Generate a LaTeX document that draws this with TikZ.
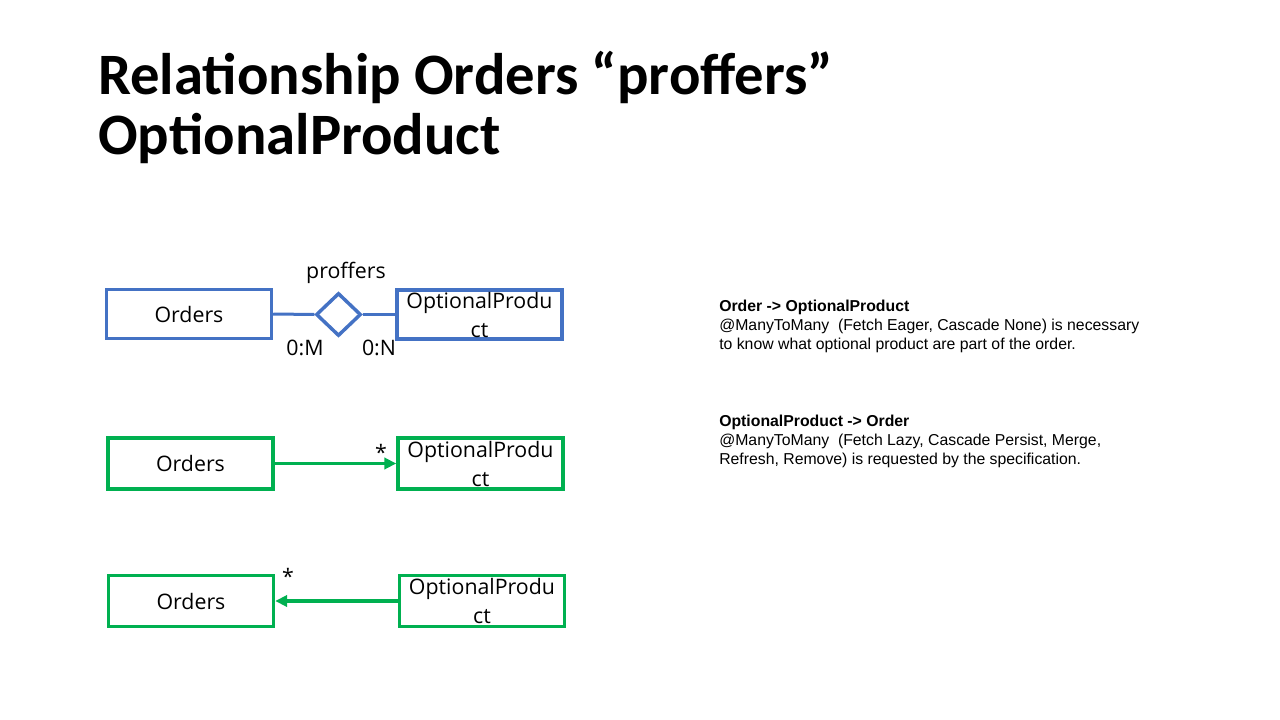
\documentclass[tikz,border=0pt]{standalone}
\usepackage{fontspec}
\setmainfont{Liberation Sans}
\newfontfamily\titlefont{Carlito}
\newfontfamily\boxfont{Open Sans}
\usetikzlibrary{arrows.meta,shapes.geometric}

\definecolor{erblue}{HTML}{4472C4}
\definecolor{umlgreen}{HTML}{00B050}

\begin{document}
\begin{tikzpicture}[x=0.75pt,y=-0.75pt,
  entity/.style={draw, line width=2.6pt, fill=white, minimum width=123.75pt, inner sep=0pt},
  blueentity/.style={entity, draw=erblue, minimum height=36.75pt},
  greenentity/.style={entity, draw=umlgreen, minimum height=38.25pt},
  relation/.style={draw=erblue, line width=2.6pt, diamond, aspect=1.05, minimum width=33.75pt, minimum height=32.25pt, inner sep=0pt},
  boxtext/.style={font=\boxfont\fontsize{16}{21.75}\selectfont, align=center, inner sep=0pt},
  smalltext/.style={font=\boxfont\fontsize{16}{20}\selectfont, inner sep=0pt},
  erline/.style={draw=erblue, line width=2.25pt},
  navarrow/.style={draw=umlgreen, line width=2.5pt, -{Triangle[length=9pt,width=8.5pt]}},
  note/.style={font=\fontsize{11.85}{13.9}\selectfont, align=left, inner sep=0pt, anchor=base west}
]
\useasboundingbox (0,0) rectangle (1280,720);

% title (base anchor sits on the last line)
\node[font=\titlefont\bfseries\fontsize{44}{45}\selectfont, align=left, anchor=base west, inner sep=0pt]
  (title) at (98,155) {Relationship Orders “proffers”\\OptionalProduct};

% ER relationship
\node[blueentity] (erord) at (189,314) {};
\node[boxtext] (erordtext) at (erord.center) {Orders};
\node[blueentity] (erprod) at (479.5,314.5) {};
\node[boxtext] (erprodtext) at (erprod.center) {OptionalProdu\\ct};
\node[relation] (rel) at (338.5,314.5) {};
\draw[erline] (erord.east) -- (rel.west);
\draw[erline] (rel.east) -- (erprod.west);
\node[smalltext] (relname) at (346,273) {proffers};
\node[smalltext] (cardm) at (305,348) {0:M};
\node[smalltext] (cardn) at (379,348) {0:N};

% unidirectional: Orders -> OptionalProduct
\node[greenentity] (uord) at (190.5,463.5) {};
\node[boxtext] (uordtext) at (uord.center) {Orders};
\node[greenentity] (uprod) at (480.5,463.5) {};
\node[boxtext] (uprodtext) at (uprod.center) {OptionalProdu\\ct};
\draw[navarrow] (uord.east) -- (uprod.west);
\node[smalltext] (ustar) at (381,452) {*};

% unidirectional: OptionalProduct -> Orders
\node[greenentity] (vord) at (191,601) {};
\node[boxtext] (vordtext) at (vord.center) {Orders};
\node[greenentity] (vprod) at (482,601) {};
\node[boxtext] (vprodtext) at (vprod.center) {OptionalProdu\\ct};
\draw[navarrow] (vprod.west) -- (vord.east);
\node[smalltext] (vstar) at (288,576) {*};

% mapping notes (base anchor sits on the last line)
\node[note] (note1) at (719,349) {\textbf{Order -> OptionalProduct}\\
  @ManyToMany\ \ (Fetch Eager, Cascade None) is necessary\\
  to know what\ optional product are part of the order.};
\node[note] (note2) at (719,464) {\textbf{OptionalProduct -> Order}\\
  @ManyToMany\ \ (Fetch Lazy,\ Cascade Persist, Merge,\\
  Refresh,\ Remove) is requested by the specification.};
\end{tikzpicture}
\end{document}
